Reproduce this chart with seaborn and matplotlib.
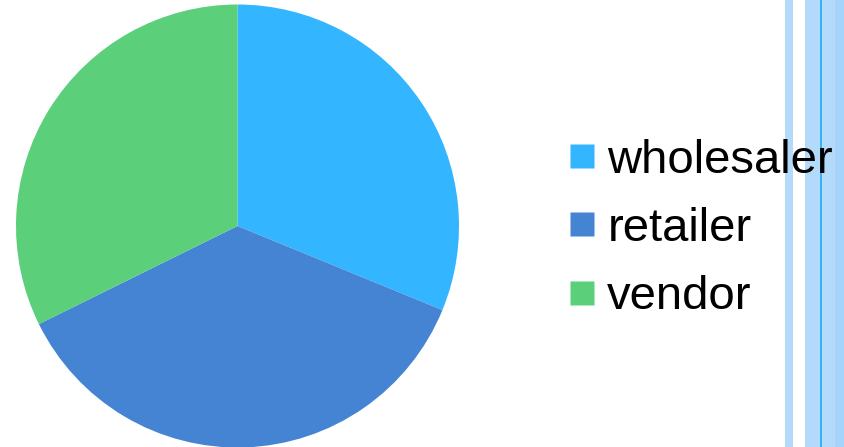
import matplotlib
matplotlib.use("Agg")
import matplotlib.pyplot as plt
from matplotlib.patches import Rectangle
from matplotlib.lines import Line2D
import seaborn as sns

# Share of sales by channel
categories = ["wholesaler", "retailer", "vendor"]
shares = [31.2, 36.5, 32.3]
slice_colors = ["#33B5FF", "#4584D3", "#5BCF7A"]

sns.set_theme(style="white")
plt.rcParams["font.family"] = ["Liberation Sans", "DejaVu Sans"]

W, H = 844, 447
fig = plt.figure(figsize=(W / 100, H / 100), dpi=100)
fig.patch.set_facecolor("white")

# Pie axes: center at (237.5, 221) px from bottom-left, radius ~221.5 px
cx, cy, r = 237.5, 221.0, 221.5
ax = fig.add_axes([(cx - r) / W, (cy - r) / H, 2 * r / W, 2 * r / H])
palette = sns.color_palette(slice_colors)
ax.pie(shares, colors=palette, startangle=90, counterclock=False,
       radius=1.0, wedgeprops=dict(linewidth=0))
ax.set_xlim(-1, 1)
ax.set_ylim(-1, 1)
ax.set_aspect("equal")
ax.axis("off")

# Decorative vertical bands at the right edge
bands = [
    (785, 8, "#B3D9FB"),
    (805, 30, "#B3D9FB"),
    (835, 9, "#A6D3FA"),
    (820, 1.6, "#35B2F6"),
]
for x0, w, c in bands:
    fig.patches.append(Rectangle((x0 / W, 0), w / W, 1, transform=fig.transFigure,
                                 facecolor=c, edgecolor="none", zorder=-1))

fs = 34
handles = [Line2D([], [], marker="s", linestyle="none", markersize=17.3,
                  markerfacecolor=c, markeredgecolor="none") for c in slice_colors]
leg = ax.legend(handles, categories, loc="center left",
                bbox_to_anchor=(570 / W, (H - 229) / H), bbox_transform=fig.transFigure,
                frameon=False, fontsize=fs, handlelength=0.51, handletextpad=0.28,
                labelspacing=0.51, borderpad=0, borderaxespad=0, labelcolor="black")
leg.set_zorder(10)

fig.savefig("out.png", dpi=100)
